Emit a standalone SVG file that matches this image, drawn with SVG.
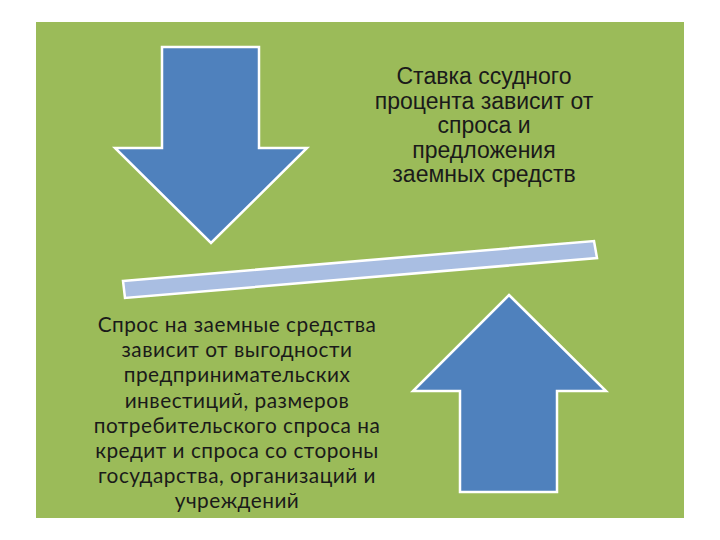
<svg xmlns="http://www.w3.org/2000/svg" width="720" height="540" viewBox="0 0 720 540">
<style>
.shape{stroke:#FFFFFF;stroke-width:2.5;stroke-linejoin:miter}
.arrow{fill:#4F81BD}
.bar{fill:#A9BEE2}
.t1{font-family:"Liberation Sans",Arial,sans-serif;font-size:23px;fill:#1A1A1A;text-anchor:middle}
.t2{font-family:Lato,"Open Sans",sans-serif;font-size:20.8px;letter-spacing:0.5px;fill:#1A1A1A;text-anchor:middle}
</style>
<rect x="0" y="0" width="720" height="540" fill="#FFFFFF"/>
<rect x="36" y="22" width="648" height="496" fill="#9BBB59"/>
<g id="down-arrow">
<polygon class="shape arrow" points="162,47 259,47 259,148 307,148 211,243 115,148 162,148"/>
</g>
<g id="up-arrow">
<polygon class="shape arrow" points="509,295 606,391 557,391 557,492 460,492 460,391 413,391"/>
</g>
<g id="bar">
<polygon class="shape bar" points="123,281 594,241 597,258 125,298"/>
</g>
<g id="top-text">
<text class="t1" x="484" y="84">Ставка ссудного</text>
<text class="t1" x="484" y="108.5">процента зависит от</text>
<text class="t1" x="484" y="133">спроса и</text>
<text class="t1" x="484" y="157.5">предложения</text>
<text class="t1" x="484" y="182">заемных средств</text>
</g>
<g id="bottom-text">
<text class="t2" x="237" y="332">Спрос на заемные средства</text>
<text class="t2" x="237" y="357">зависит от выгодности</text>
<text class="t2" x="237" y="382">предпринимательских</text>
<text class="t2" x="237" y="407.5">инвестиций, размеров</text>
<text class="t2" x="237" y="433">потребительского спроса на</text>
<text class="t2" x="237" y="458">кредит и спроса со стороны</text>
<text class="t2" x="237" y="483">государства, организаций и</text>
<text class="t2" x="237" y="508">учреждений</text>
</g>
<g id="connectors"/>
</svg>
